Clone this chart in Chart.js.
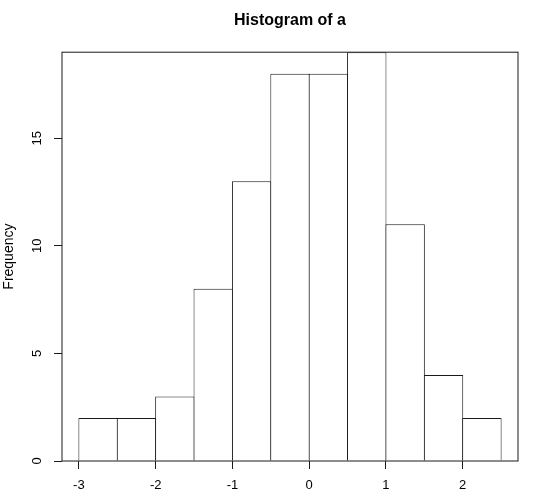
<!DOCTYPE html>
<html>
<head>
<meta charset="utf-8">
<title>Histogram of a</title>
<script src="https://cdn.jsdelivr.net/npm/chart.js@4/dist/chart.umd.min.js"></script>
<style>
  html, body { margin: 0; padding: 0; background: #fff; }
  #wrap { width: 540px; height: 500px; }
</style>
</head>
<body>
<div id="wrap"><canvas id="histChart" width="540" height="500"></canvas></div>
<script>
// histogram bins (left edge of each bin) and their counts
const binStarts = [-3, -2.5, -2, -1.5, -1, -0.5, 0, 0.5, 1, 1.5, 2];
const binWidth = 0.5;
const counts = [2, 2, 3, 8, 13, 18, 18, 19, 11, 4, 2];
const xTicks = [-3, -2, -1, 0, 1, 2];
const yTicks = [0, 5, 10, 15];

const lineColor = '#1a1a1a';
const fontFamily = '"Liberation Sans", Arial, Helvetica, sans-serif';

// R pads the x range by 4% on each side, y starts at 0 and stops at the max count
const xMin = binStarts[0];
const xMax = binStarts[binStarts.length - 1] + binWidth;
const xPad = (xMax - xMin) * 0.04;
const yMax = Math.max(...counts);

// frame around the plot region, like box() in R
const boxPlugin = {
    id: 'plotBox',
    afterDatasetsDraw(chart) {
        const { ctx, chartArea: a } = chart;
        ctx.save();
        ctx.strokeStyle = lineColor;
        ctx.lineWidth = 1;
        ctx.strokeRect(a.left, a.top, a.right - a.left, a.bottom - a.top);
        ctx.restore();
    }
};

const histCtx = document.getElementById('histChart');
new Chart(histCtx, {
    type: 'bar',
    data: {
        datasets: [{
            data: binStarts.map((s, i) => ({ x: s + binWidth / 2, y: counts[i] })),
            backgroundColor: '#fff',
            borderColor: lineColor,
            borderWidth: 1,
            borderSkipped: 'start',
            categoryPercentage: 1,
            // a hair wider so neighbouring bars share one edge line
            barPercentage: 1.026
        }]
    },
    options: {
        responsive: false,
        animation: false,
        layout: { padding: { right: 22 } },
        plugins: {
            legend: { display: false },
            tooltip: { enabled: false },
            title: {
                display: true,
                text: 'Histogram of a',
                fullSize: false,
                color: '#000',
                font: { family: fontFamily, size: 16, weight: 'bold' },
                padding: { top: 11, bottom: 22 }
            }
        },
        scales: {
            x: {
                type: 'linear',
                offset: false,
                min: xMin - xPad,
                max: xMax + xPad,
                afterBuildTicks: scale => { scale.ticks = xTicks.map(v => ({ value: v })); },
                afterFit: scale => { scale.height = 39; },
                grid: { offset: false, drawOnChartArea: false, drawTicks: true, tickLength: 8, tickColor: lineColor },
                border: { display: false },
                ticks: {
                    color: '#000',
                    font: { family: fontFamily, size: 13 },
                    padding: 9,
                    maxRotation: 0,
                    autoSkip: false
                }
            },
            y: {
                min: 0,
                max: yMax,
                afterBuildTicks: scale => { scale.ticks = yTicks.map(v => ({ value: v })); },
                afterFit: scale => { scale.width = 62; },
                grid: { drawOnChartArea: false, drawTicks: true, tickLength: 8, tickColor: lineColor },
                border: { display: false },
                ticks: {
                    color: '#000',
                    font: { family: fontFamily, size: 13 },
                    minRotation: 90,
                    maxRotation: 90,
                    crossAlign: 'center',
                    padding: 9,
                    autoSkip: false
                },
                title: {
                    display: true,
                    text: 'Frequency',
                    color: '#000',
                    font: { family: fontFamily, size: 14 },
                    padding: { top: 1, bottom: 0 }
                }
            }
        }
    },
    plugins: [boxPlugin]
});
</script>
</body>
</html>
